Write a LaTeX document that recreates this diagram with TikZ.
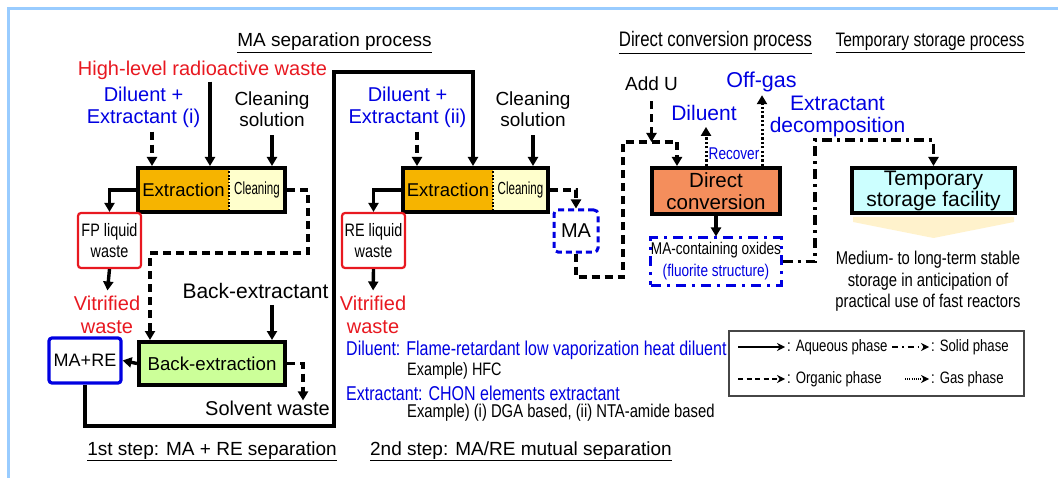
\documentclass[tikz,border=0pt]{standalone}
\usepackage{fontspec}
\setmainfont{Liberation Sans}
\newfontfamily\nf[FakeStretch=0.8]{Liberation Sans}
\newfontfamily\nnf[FakeStretch=0.66]{Liberation Sans}
\usetikzlibrary{arrows.meta,calc}
\newcommand\fsz[2]{\fontsize{#1}{#2}\selectfont}
\definecolor{redc}{RGB}{232,24,32}
\definecolor{blu}{RGB}{0,0,225}
\definecolor{orng}{RGB}{246,180,0}
\definecolor{ylw}{RGB}{255,255,204}
\definecolor{grn}{RGB}{204,255,153}
\definecolor{salmon}{RGB}{244,142,92}
\definecolor{cyanc}{RGB}{204,255,255}
\definecolor{chev}{RGB}{255,242,204}
\definecolor{bordc}{RGB}{153,204,255}
\definecolor{lgray}{RGB}{70,70,70}
\begin{document}
\begin{tikzpicture}[x=1pt,y=-1pt,
  every node/.style={inner sep=0pt},
  tip/.style={-{Triangle[length=9pt,width=10pt]}},
  aqA/.style={line width=3.4pt, tip},
  orgA/.style={line width=3.4pt, tip, dash pattern=on 8pt off 5pt},
  solA/.style={line width=3.4pt, tip, dash pattern=on 10pt off 5pt on 3pt off 5pt},
  gasA/.style={line width=3pt, tip, dash pattern=on 2.2pt off 2.2pt},
  blackbox/.style={draw=black, line width=4pt},
  splitbox/.style={blackbox, fill=ylw, path picture={
      \fill[orng] (path picture bounding box.north west) rectangle ([xshift=#1]path picture bounding box.south west);
      \draw[line width=1.8pt, dash pattern=on 1.8pt off 1.6pt] ([xshift=#1]path picture bounding box.north west) -- ([xshift=#1]path picture bounding box.south west);}},
  redbox/.style={draw=redc, line width=2.2pt, rounded corners=3pt, fill=white},
  bluebox/.style={draw=blu, line width=3.2pt, rounded corners=3pt, fill=white},
  madash/.style={draw=blu, line width=3pt, rounded corners=4pt, dash pattern=on 6pt off 4pt},
  maodash/.style={draw=blu, line width=3pt, dash pattern=on 10pt off 6pt on 3pt off 6pt},
  lgline/.style={line width=1.6pt, -{Stealth[length=8pt,width=8pt]}, shorten >=2pt},
  lgtext/.style={anchor=west, font=\nf\fsz{16.5}{19}}
]
\useasboundingbox (0,0) rectangle (1059,478);
\draw[bordc, line width=3pt] (8.5,478) -- (8.5,8.5) -- (1058,8.5);

% headings
\node[anchor=base, font=\fsz{19}{21}] (h1) at (334.5,47) {\underline{MA separation process}};
\node[anchor=base, font=\nf\fsz{21}{23}] (h2) at (715.5,47) {\underline{Direct conversion process}};
\node[anchor=base, font=\nf\fsz{19.5}{21}] (h3) at (930,47) {\underline{Temporary storage process}};
\node[anchor=base, font=\fsz{19}{21}] (h4) at (212,455) {\underline{1st step: MA + RE separation}};
\node[anchor=base, font=\fsz{19}{21}] (h5) at (521,455) {\underline{2nd step: MA/RE mutual separation}};

% first step
\node[text=redc, font=\fsz{20}{22}] (hlw) at (202.5,70) {High-level radioactive waste};
\node[text=blu, align=center, font=\fsz{20}{22}] (dil1) at (143.5,107) {Diluent +\\Extractant (i)};
\node[align=center, font=\fsz{19}{21}] (cl1) at (272,109.5) {Cleaning\\solution};
\node[splitbox=91pt, minimum width=147pt, minimum height=44pt] (ex1) at (211.5,190) {};
\node[font=\fsz{18.5}{20}] (ex1a) at (183.5,190) {Extraction};
\node[font=\nnf\fsz{17.5}{19}] (ex1b) at (257,190) {Cleaning};
\node[redbox, minimum width=63pt, minimum height=55pt, align=center, font=\nf\fsz{18}{21}] (fp) at (109.5,240.5) {FP liquid\\waste};
\node[text=redc, align=center, font=\fsz{20}{23}] (vit1) at (107,314.5) {Vitrified\\waste};
\node[font=\fsz{21}{22}] (bext) at (255.5,291) {Back-extractant};
\node[blackbox, fill=grn, minimum width=146pt, minimum height=43pt, font=\fsz{18.7}{20}] (be) at (212,363.5) {Back-extraction};
\node[bluebox, minimum width=72pt, minimum height=45pt, font=\fsz{18}{20}] (mare) at (85,360.5) {MA+RE};
\node[font=\fsz{20}{22}] (sw) at (267.5,408) {Solvent waste};

% second step
\node[text=blu, align=center, font=\fsz{20}{22}] (dil2) at (407.5,107) {Diluent +\\Extractant (ii)};
\node[align=center, font=\fsz{19}{21}] (cl2) at (533,109.5) {Cleaning\\solution};
\node[splitbox=90pt, minimum width=145pt, minimum height=44pt] (ex2) at (475.5,190) {};
\node[font=\fsz{18.5}{20}] (ex2a) at (448,190) {Extraction};
\node[font=\nnf\fsz{17.5}{19}] (ex2b) at (520.5,190) {Cleaning};
\node[redbox, minimum width=63pt, minimum height=55pt, align=center, font=\nf\fsz{18}{21}] (re) at (373.5,240.5) {RE liquid\\waste};
\node[text=redc, align=center, font=\fsz{20}{23}] (vit2) at (373,314.5) {Vitrified\\waste};
\node[madash, minimum width=44pt, minimum height=42pt, font=\fsz{20}{22}] (ma) at (576,231) {MA};

% notes
\node[anchor=west, text=blu, font=\nf\fsz{20}{22}] (n1) at (346,350) {Diluent: Flame-retardant low vaporization heat diluent};
\node[anchor=west, font=\nf\fsz{18}{20}] (n2) at (407,371) {Example) HFC};
\node[anchor=west, text=blu, font=\nf\fsz{20}{22}] (n3) at (346,393) {Extractant: CHON elements extractant};
\node[anchor=west, font=\nf\fsz{18.5}{20}] (n4) at (407,413) {Example) (i) DGA based, (ii) NTA-amide based};

% direct conversion
\node[font=\fsz{19}{21}] (addu) at (651.5,84) {Add U};
\node[text=blu, font=\fsz{21}{22}] (dil3) at (704,113) {Diluent};
\node[text=blu, font=\fsz{21.5}{22}] (offgas) at (761.5,82) {Off-gas};
\node[text=blu, font=\nf\fsz{17}{19}] (recover) at (734,154) {Recover};
\node[text=blu, align=center, font=\fsz{21}{22}] (extdec) at (837.5,116) {Extractant\\decomposition};
\node[blackbox, fill=salmon, minimum width=128pt, minimum height=46pt, align=center, font=\fsz{20.5}{22}] (dc) at (716,191) {Direct\\conversion};
\node[maodash, minimum width=128pt, minimum height=47pt, align=center, font=\nf\fsz{17}{22}] (mao) at (716,261.5) {MA-containing oxides\\\textcolor{blu}{(fluorite structure)}};

% temporary storage
\fill[chev] (853,217) -- (1014,217) -- (1014,222) -- (933.5,238) -- (853,222) -- cycle;
\node[blackbox, fill=cyanc, minimum width=163pt, minimum height=45pt, align=center, font=\fsz{21}{21}] (ts) at (933.5,190.5) {Temporary\\storage facility};
\node[align=center, font=\nf\fsz{18.5}{21.5}] (med) at (928,281.5) {Medium- to long-term stable\\storage in anticipation of\\practical use of fast reactors};

% connectors
\draw[aqA, shorten <=2pt] (hlw.south -| 210,0) -- (ex1.north -| 210,0);
\draw[orgA, shorten <=4pt] (dil1.south -| 152,0) -- (ex1.north -| 152,0);
\draw[aqA, shorten <=8pt] (cl1.south) -- (cl1.south |- ex1.north);
\draw[aqA] (ex1.west) -| (fp.north);
\draw[orgA] (ex1.east) -| (308,253) -| (be.north -| 150,0);
\draw[aqA, shorten >=5pt] (fp.south) -- (vit1.north);
\draw[aqA, shorten <=6pt] (bext.south -| 272,0) -- (be.north -| 272,0);
\draw[aqA] (be.west) -- (mare.east);
\draw[orgA] (be.east) -| (sw.north -| 303,0);
\draw[aqA] (mare.south) |- (334,426) -- (334,72) -| ([xshift=72pt]ex2.north west);
\draw[orgA, shorten <=4pt] (dil2.south -| 417,0) -- (ex2.north -| 417,0);
\draw[aqA, shorten <=8pt] (cl2.south) -- (cl2.south |- ex2.north);
\draw[aqA] (ex2.west) -| (re.north);
\draw[orgA] (ex2.east) -| (ma.north);
\draw[aqA, shorten >=5pt] (re.south) -- (vit2.north);
\draw[orgA] (ma.south) |- (623,277) -- (623,142) -| (dc.north -| 677,0);
\draw[orgA, shorten <=10pt] (addu.south) -- (addu.south |- 0,142);
\draw[gasA, shorten >=6pt] (dc.north -| 706,0) -- (dil3.south -| 706,0);
\draw[gasA, shorten >=3pt] (dc.north -| 762,0) -- (offgas.south -| 762,0);
\draw[aqA] (dc.south) -- (mao.north);
\draw[solA] (mao.east) -| (815,140) -| (ts.north);

% legend
\node[draw=lgray, line width=2pt, minimum width=295pt, minimum height=65pt] (lg) at (876.5,363.5) {};
\node[lgtext] (lq) at (787,347) {: Aqueous phase};
\node[lgtext] (ls) at (931,347) {: Solid phase};
\node[lgtext] (lo) at (787,379) {: Organic phase};
\node[lgtext] (lgp) at (931,379) {: Gas phase};
\draw[lgline] ([xshift=-49pt]lq.west) -- (lq.west);
\draw[lgline, dash pattern=on 6pt off 4pt on 1.5pt off 4pt] ([xshift=-39pt]ls.west) -- (ls.west);
\draw[lgline, dash pattern=on 5pt off 3.5pt] ([xshift=-49pt]lo.west) -- (lo.west);
\draw[lgline, line width=1.3pt, dash pattern=on 1pt off 1.2pt] ([xshift=-26pt]lgp.west) -- (lgp.west);
\end{tikzpicture}
\end{document}
